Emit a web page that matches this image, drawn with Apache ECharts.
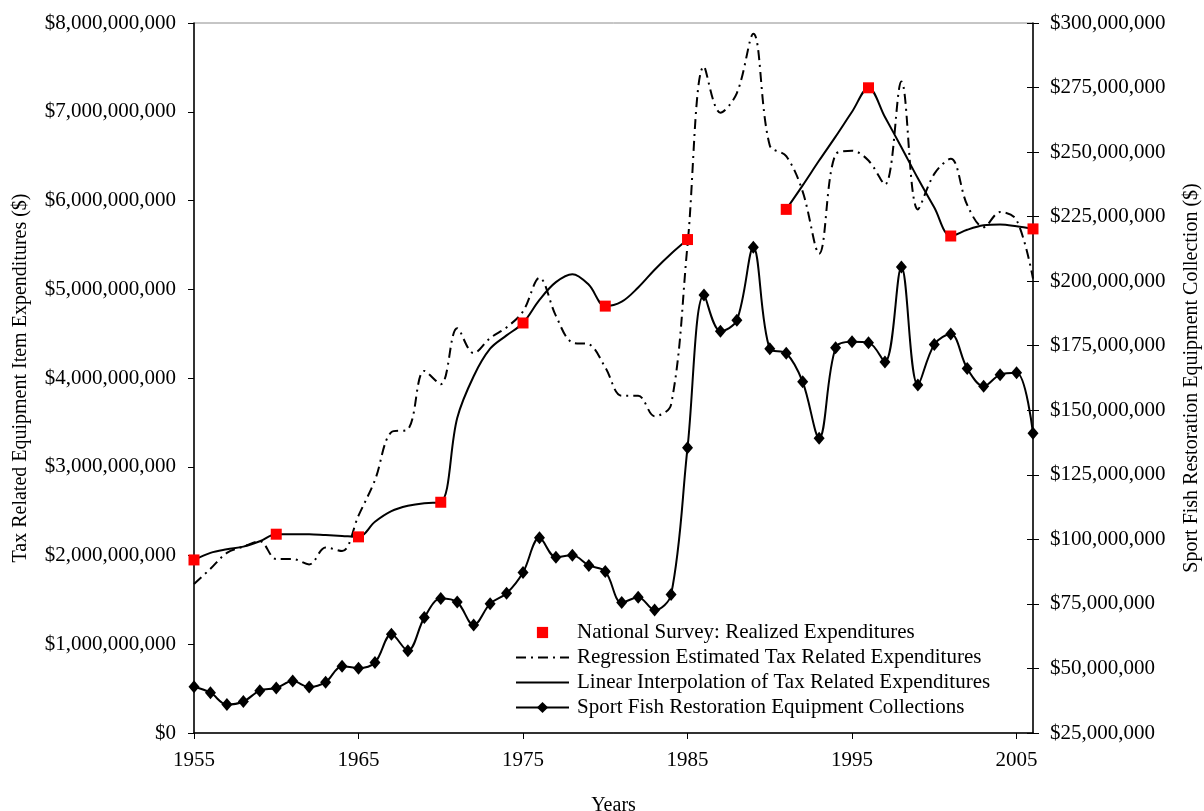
<!DOCTYPE html>
<html>
<head>
<meta charset="utf-8">
<title>Tax related expenditures and Sport Fish Restoration collections</title>
<script src="https://cdn.jsdelivr.net/npm/echarts@6/dist/echarts.min.js"></script>
<style>
  html, body { margin: 0; padding: 0; background: #fff; }
  #chart { width: 1204px; height: 811px; }
</style>
</head>
<body>
<div id="chart"></div>
<script>
// years on the x axis
const years = [
  1955, 1956, 1957, 1958, 1959, 1960, 1961, 1962, 1963, 1964,
  1965, 1966, 1967, 1968, 1969, 1970, 1971, 1972, 1973, 1974,
  1975, 1976, 1977, 1978, 1979, 1980, 1981, 1982, 1983, 1984,
  1985, 1986, 1987, 1988, 1989, 1990, 1991, 1992, 1993, 1994,
  1995, 1996, 1997, 1998, 1999, 2000, 2001, 2002, 2003, 2004,
  2005, 2006
]
const tickYears = [1955, 1965, 1975, 1985, 1995, 2005]

// national survey points, billions of $
const surveyYears = [1955, 1960, 1965, 1970, 1975, 1980, 1985, 1991, 1996, 2001, 2006]
const surveyValues = [1.95, 2.24, 2.21, 2.60, 4.62, 4.81, 5.56, 5.90, 7.27, 5.60, 5.68]

// regression estimate, billions of $
const regressionValues = [
  1.68, 1.85, 2.03, 2.10, 2.16, 1.96, 1.96, 1.90, 2.09, 2.05,
  2.45, 2.85, 3.39, 3.42, 4.08, 3.93, 4.56, 4.28, 4.45, 4.57,
  4.75, 5.13, 4.70, 4.40, 4.38, 4.12, 3.80, 3.80, 3.57, 3.70,
  5.50, 7.51, 6.99, 7.21, 7.88, 6.62, 6.50, 6.10, 5.40, 6.52,
  6.56, 6.45, 6.18, 7.34, 5.90, 6.30, 6.47, 5.95, 5.70, 5.87,
  5.78, 5.12
]

// linear interpolation, billions of $ (no values 1986-1990)
const interpValues = [
  1.95, 2.03, 2.07, 2.10, 2.16, 2.24, 2.24, 2.24, 2.23, 2.22,
  2.21, 2.38, 2.50, 2.56, 2.59, 2.60, 3.55, 4.02, 4.33, 4.48,
  4.62, 4.88, 5.08, 5.17, 5.05, 4.81, 4.86, 5.02, 5.22, 5.40,
  5.56, null, null, null, null, null, 5.90, 6.17, 6.45, 6.72,
  7.00, 7.27, 6.94, 6.60, 6.25, 5.92, 5.60, 5.67, 5.72, 5.73,
  5.71, 5.68
]

// sport fish restoration collections, millions of $
const collectionValues = [
  42.9, 40.6, 36.0, 37.2, 41.4, 42.4, 45.1, 42.8, 44.7, 50.9,
  50.1, 52.3, 63.2, 56.9, 69.7, 77.1, 75.7, 66.8, 75.1, 79.1,
  87.2, 100.6, 93.1, 93.8, 89.9, 87.6, 75.5, 77.6, 72.6, 78.6,
  135.5, 194.6, 180.6, 184.9, 213.1, 173.8, 172.1, 161.0, 139.2, 174.2,
  176.5, 176.2, 168.7, 205.5, 159.8, 175.5, 179.5, 166.2, 159.3, 163.8,
  164.5, 141.1
]

const FONT = 'Liberation Serif'

const money = (v, scale) => {
  const n = Math.round(v * scale)
  return '$' + n.toString().replace(/\B(?=(\d{3})+(?!\d))/g, ',')
}

const pairs = vals => years.map((y, i) => [y, vals[i]])

const chart = echarts.init(document.getElementById('chart'), null, { renderer: 'canvas' })

const option = {
  animation: false,
  backgroundColor: '#fff',
  textStyle: { fontFamily: FONT, color: '#000' },
  grid: {
    left: 194,
    right: 171,
    top: 23,
    bottom: 78,
    outerBoundsMode: 'none',
    show: true,
    borderColor: '#8c8c8c',
    borderWidth: 1
  },
  legend: {
    orient: 'vertical',
    left: 515,
    top: 622,
    padding: 0,
    itemWidth: 53,
    itemHeight: 14,
    itemGap: 4,
    textStyle: { fontFamily: FONT, fontSize: 21, color: '#000', padding: [0, 0, 0, 3] },
    data: [
      { name: 'National Survey: Realized Expenditures' },
      { name: 'Regression Estimated Tax Related Expenditures', itemStyle: { opacity: 0 } },
      { name: 'Linear Interpolation of Tax Related Expenditures', itemStyle: { opacity: 0 } },
      { name: 'Sport Fish Restoration Equipment Collections' }
    ]
  },
  xAxis: {
    type: 'value',
    min: 1955,
    max: 2006,
    interval: 10,
    name: 'Years',
    nameLocation: 'middle',
    nameGap: 63,
    nameTextStyle: { fontFamily: FONT, fontSize: 20, color: '#000' },
    axisLine: { lineStyle: { color: '#000', width: 1.5 } },
    axisTick: { length: 6, lineStyle: { color: '#000' }, customValues: tickYears },
    axisLabel: {
      margin: 17,
      fontFamily: FONT,
      fontSize: 21,
      color: '#000',
      customValues: tickYears,
      formatter: v => String(v)
    },
    splitLine: { show: false }
  },
  yAxis: [
    {
      type: 'value',
      min: 0,
      max: 8,
      interval: 1,
      position: 'left',
      name: 'Tax Related Equipment Item Expenditures ($)',
      nameLocation: 'middle',
      nameRotate: 90,
      nameGap: 163,
      nameTextStyle: { fontFamily: FONT, fontSize: 20, color: '#000' },
      axisLine: { show: true, lineStyle: { color: '#000', width: 1.5 } },
      axisTick: { show: true, length: 6, lineStyle: { color: '#000' } },
      axisLabel: {
        margin: 18,
        fontFamily: FONT,
        fontSize: 21,
        color: '#000',
        formatter: v => money(v, 1e9)
      },
      splitLine: { show: false }
    },
    {
      type: 'value',
      min: 25,
      max: 300,
      interval: 25,
      position: 'right',
      name: 'Sport Fish Restoration Equipment Collection ($)',
      nameLocation: 'middle',
      nameRotate: 90,
      nameGap: 149,
      nameTextStyle: { fontFamily: FONT, fontSize: 20, color: '#000' },
      axisLine: { show: true, lineStyle: { color: '#000', width: 1.5 } },
      axisTick: { show: true, length: 6, lineStyle: { color: '#000' } },
      axisLabel: {
        margin: 17,
        fontFamily: FONT,
        fontSize: 21,
        color: '#000',
        formatter: v => money(v, 1e6)
      },
      splitLine: { show: false }
    },
    {
      // inner half of the crossing ticks on the right axis
      type: 'value',
      min: 25,
      max: 300,
      interval: 25,
      position: 'right',
      axisLine: { show: false },
      axisTick: { show: true, inside: true, length: 6, lineStyle: { color: '#000' } },
      axisLabel: { show: false },
      splitLine: { show: false }
    }
  ],
  series: [
    {
      name: 'Regression Estimated Tax Related Expenditures',
      type: 'line',
      yAxisIndex: 0,
      data: pairs(regressionValues),
      smooth: 0.35,
      symbol: 'none',
      lineStyle: { color: '#000', width: 2, type: [10, 5, 2, 5] },
      itemStyle: { color: '#000' },
      z: 2
    },
    {
      name: 'Linear Interpolation of Tax Related Expenditures',
      type: 'line',
      yAxisIndex: 0,
      data: pairs(interpValues),
      smooth: 0.35,
      connectNulls: false,
      symbol: 'none',
      lineStyle: { color: '#000', width: 2 },
      itemStyle: { color: '#000' },
      z: 3
    },
    {
      name: 'Sport Fish Restoration Equipment Collections',
      type: 'line',
      yAxisIndex: 1,
      data: pairs(collectionValues),
      smooth: 0.35,
      symbol: 'diamond',
      symbolSize: [11, 13],
      lineStyle: { color: '#000', width: 2 },
      itemStyle: { color: '#000' },
      z: 4
    },
    {
      name: 'National Survey: Realized Expenditures',
      type: 'line',
      yAxisIndex: 0,
      data: surveyYears.map((y, i) => [y, surveyValues[i]]),
      symbol: 'rect',
      symbolSize: 11,
      lineStyle: { opacity: 0 },
      itemStyle: { color: '#ff0000' },
      z: 5
    }
  ]
}

chart.setOption(option)
</script>
</body>
</html>
